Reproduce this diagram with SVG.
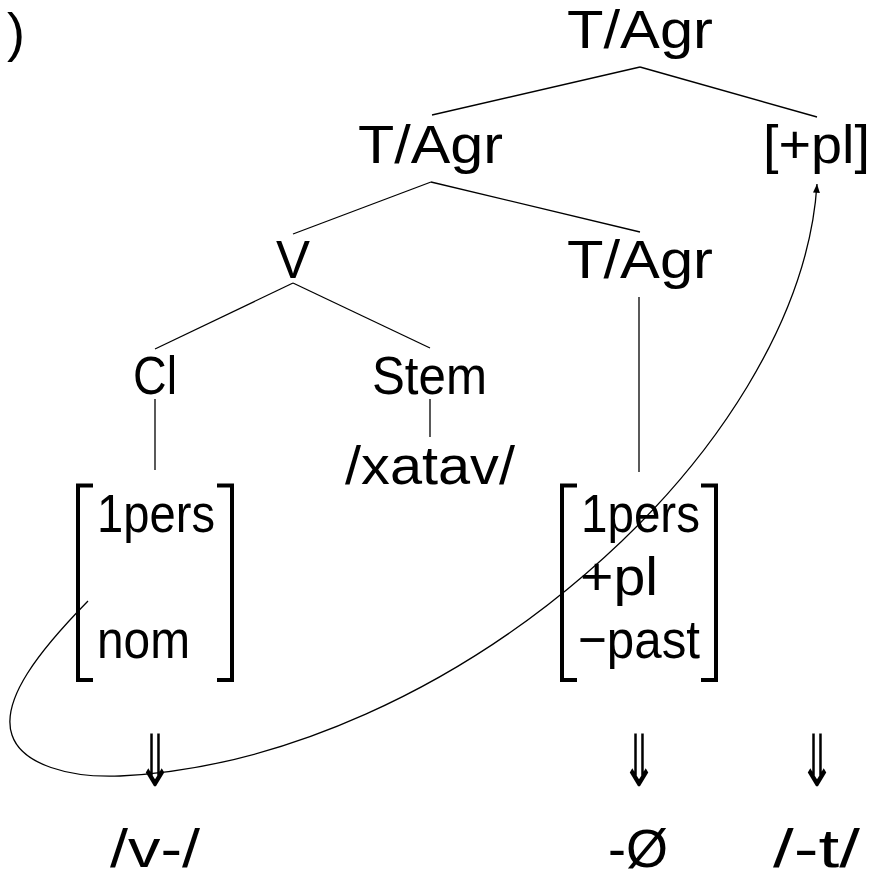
<svg xmlns="http://www.w3.org/2000/svg" width="872" height="879" viewBox="0 0 872 879">
<style>
text{font-family:"Liberation Sans",Arial,sans-serif;font-size:54px;fill:#000}
.br{fill:none;stroke:#000;stroke-width:4;stroke-linecap:butt;stroke-linejoin:miter}
.ln{stroke:#000;stroke-width:1.3;fill:none}
.arr{font-family:"DejaVu Sans",sans-serif;text-anchor:middle;font-size:72px}
</style>
<defs>
<marker id="ah" viewBox="0 0 10 8" refX="10" refY="4" markerWidth="10" markerHeight="7" markerUnits="userSpaceOnUse" orient="auto">
<path d="M0,0 L10,4 L0,8 z" fill="#000"/>
</marker>
</defs>
<rect width="872" height="879" fill="#fff"/>
<g id="label-paren"><text x="7" y="51">)</text></g>
<g id="n-root"><text x="567" y="48" textLength="146" lengthAdjust="spacingAndGlyphs">T/Agr</text></g>
<g id="n-tagr2"><text x="358" y="163" textLength="145" lengthAdjust="spacingAndGlyphs">T/Agr</text></g>
<g id="n-pl"><text x="763" y="163" textLength="107" lengthAdjust="spacingAndGlyphs">[+pl]</text></g>
<g id="n-v"><text x="276" y="278" textLength="34" lengthAdjust="spacingAndGlyphs">V</text></g>
<g id="n-tagr3"><text x="567" y="278" textLength="146" lengthAdjust="spacingAndGlyphs">T/Agr</text></g>
<g id="n-cl"><text x="133" y="394" textLength="44" lengthAdjust="spacingAndGlyphs">Cl</text></g>
<g id="n-stem"><text x="372" y="394" textLength="115" lengthAdjust="spacingAndGlyphs">Stem</text></g>
<g id="n-xatav"><text x="345" y="484" textLength="170" lengthAdjust="spacingAndGlyphs">/xatav/</text></g>
<g id="n-mat1">
<polyline class="br" points="93,485.5 78,485.5 78,680 93,680"/>
<polyline class="br" points="217,485.5 232,485.5 232,680 217,680"/>
<text x="97" y="532" textLength="118" lengthAdjust="spacingAndGlyphs">1pers</text>
<text x="97" y="658" textLength="93" lengthAdjust="spacingAndGlyphs">nom</text>
</g>
<g id="n-mat2">
<polyline class="br" points="577,485.5 562,485.5 562,680 577,680"/>
<polyline class="br" points="701,485.5 716,485.5 716,680 701,680"/>
<text x="581" y="532" textLength="119" lengthAdjust="spacingAndGlyphs">1pers</text>
<text x="580" y="595" textLength="78" lengthAdjust="spacingAndGlyphs">+pl</text>
<text x="578" y="658" textLength="122" lengthAdjust="spacingAndGlyphs">−past</text>
</g>
<g id="n-arrows">
<text class="arr" transform="translate(155,786) scale(0.6,1)">⇓</text>
<text class="arr" transform="translate(639,786) scale(0.6,1)">⇓</text>
<text class="arr" transform="translate(817,786) scale(0.6,1)">⇓</text>
</g>
<g id="n-v-out"><text x="110" y="867" textLength="90" lengthAdjust="spacingAndGlyphs">/v-/</text></g>
<g id="n-null-out"><text x="608" y="867" textLength="60" lengthAdjust="spacingAndGlyphs">-Ø</text></g>
<g id="n-t-out"><text x="773" y="867" textLength="87" lengthAdjust="spacingAndGlyphs">/-t/</text></g>
<g id="connectors">
<line class="ln" x1="640" y1="67" x2="432" y2="115"/>
<line class="ln" x1="640" y1="67" x2="817" y2="117"/>
<line class="ln" x1="431" y1="182" x2="293" y2="234"/>
<line class="ln" x1="431" y1="182" x2="640" y2="232"/>
<line class="ln" x1="293" y1="283" x2="155" y2="349"/>
<line class="ln" x1="293" y1="283" x2="430" y2="348"/>
<line class="ln" x1="155" y1="399" x2="155" y2="470"/>
<line class="ln" x1="430" y1="399" x2="430" y2="437"/>
<line class="ln" x1="639" y1="297" x2="639" y2="472"/>
<path class="ln" d="M88,601 C40,650 0,700 12,735 C22,765 70,778 120,776 C450,760 800,450 817,184" marker-end="url(#ah)"/>
</g>
</svg>
